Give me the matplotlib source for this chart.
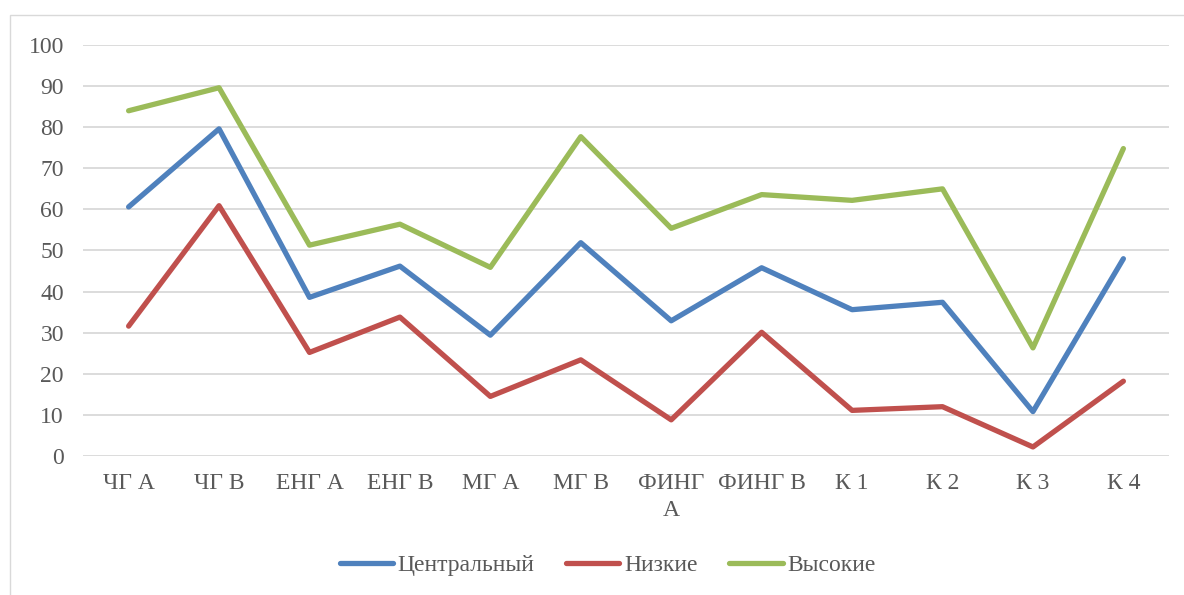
import matplotlib
matplotlib.use("Agg")
import matplotlib.pyplot as plt
from matplotlib.patches import Rectangle

categories = ["ЧГ А", "ЧГ В", "ЕНГ А", "ЕНГ В", "МГ А", "МГ В", "ФИНГ\nА", "ФИНГ В", "К 1", "К 2", "К 3", "К 4"]
central = [60.6, 79.6, 38.6, 46.2, 29.4, 51.9, 32.9, 45.8, 35.6, 37.4, 10.8, 48.0]
low = [31.6, 60.9, 25.2, 33.8, 14.5, 23.4, 8.8, 30.1, 11.1, 12.0, 2.2, 18.2]
high = [84.0, 89.6, 51.3, 56.4, 45.9, 77.7, 55.4, 63.6, 62.2, 65.0, 26.3, 74.8]
series_names = ["Центральный", "Низкие", "Высокие"]
colors = ["#4F81BD", "#C0504D", "#9BBB59"]
yticks = list(range(0, 101, 10))

W, H = 1184, 595
fig = plt.figure(figsize=(W / 100, H / 100), dpi=100)
plt.rcParams['font.family'] = ['Liberation Serif', 'DejaVu Serif']

# chart border
fig.patches.append(Rectangle((9.6 / W, -0.05), 1.2, 1 - 15 / H + 0.05, transform=fig.transFigure,
                             fill=False, edgecolor="#D9D9D9", linewidth=1.0, zorder=0))

ax = fig.add_axes([83.4 / W, 1 - 456 / H, (1168.6 - 83.4) / W, (456 - 45) / H])
x = list(range(len(categories)))
for vals, name, c in zip([central, low, high], series_names, colors):
    ax.plot(x, vals, color=c, lw=3.8, label=name, solid_capstyle="round", solid_joinstyle="round", zorder=3)

ax.set_xlim(-0.5, len(categories) - 0.5)
ax.set_ylim(0, 100)
ax.set_yticks(yticks)
ax.set_xticks(x)
ax.set_xticklabels(categories, linespacing=1.4)
for s in ax.spines.values():
    s.set_visible(False)
ax.yaxis.grid(True, color="#D9D9D9", lw=1.3)
ax.set_axisbelow(True)
ax.tick_params(axis="both", length=0, labelsize=17, labelcolor="#595959")
ax.tick_params(axis="y", pad=14)
ax.tick_params(axis="x", pad=12)

leg = fig.legend(loc="center", bbox_to_anchor=(607.6 / W, 1 - 565 / H), ncol=3, frameon=False,
                 fontsize=17, handlelength=2.25, handletextpad=0.2, columnspacing=1.35,
                 borderaxespad=0)
for t in leg.get_texts():
    t.set_color("#595959")

fig.savefig("out.png", dpi=100)
